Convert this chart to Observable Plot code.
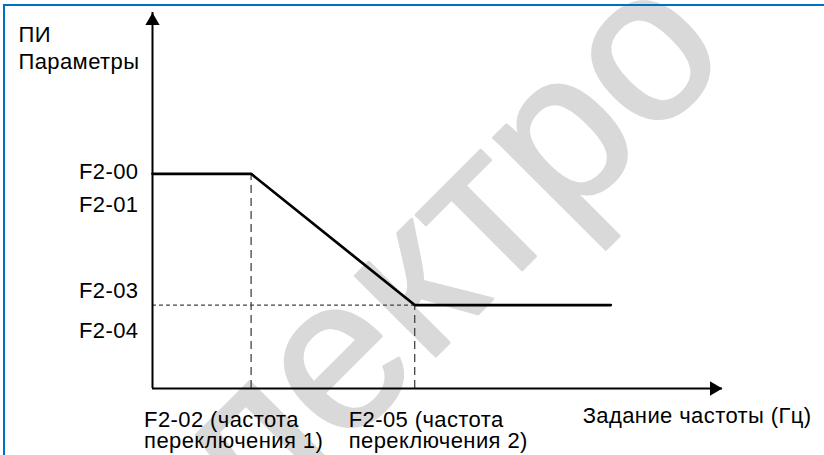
<!DOCTYPE html>
<html><head><meta charset="utf-8">
<script src="https://cdn.jsdelivr.net/npm/d3@7"></script>
<script src="https://cdn.jsdelivr.net/npm/@observablehq/plot@0.6"></script>
<style>
html,body{margin:0;padding:0;background:#fff;overflow:hidden;}
#wrap{position:relative;width:824px;height:455px;}
#border{position:absolute;left:3px;top:4px;right:0;bottom:0;border-top:2.5px solid #0070C0;border-left:2.5px solid #0070C0;pointer-events:none;}
#chart text{letter-spacing:0.4px;}
</style></head><body>
<div id="wrap"><div id="chart"></div><div id="border"></div></div>
<script>
// Frequency setting (relative units, axis length = 100) and PI parameter level
const freq = [0, 17.3, 46.0, 80.4];
const piParam = [57.1, 57.1, 22.2, 22.2];
const axisMax = 100;
const yTickLabels = ["F2-00\nF2-01", "F2-03\nF2-04"];
const xTickLabels = ["F2-02 (частота\nпереключения 1)", "F2-05 (частота\nпереключения 2)"];
const yTitle = "ПИ\nПараметры";
const xTitle = "Задание частоты (Гц)";
const watermark = "Электро";

const curve = freq.map((f, i) => ({f, p: piParam[i]}));
const font = "'Liberation Sans', Arial, sans-serif";
const fs = 22;

const plot = Plot.plot({
  width: 824, height: 455,
  marginLeft: 152, marginRight: 102, marginTop: 12, marginBottom: 67,
  x: {domain: [0, axisMax], axis: null},
  y: {domain: [0, axisMax], axis: null},
  style: {fontFamily: font, background: "white", color: "black"},
  marks: [
    Plot.text([watermark], {frameAnchor: "top-left", dx: 180, dy: 231, rotate: -45, fontSize: 215,
      fill: "#d9d9d9", stroke: "#d9d9d9", strokeWidth: 3, strokeLinejoin: "round", textAnchor: "middle"}),
    // dashed guides
    Plot.ruleX([{x: freq[1], y2: piParam[1]}, {x: freq[2], y2: piParam[2]}],
      {x: "x", y1: 0, y2: "y2", stroke: "#444", strokeWidth: 1.3, strokeDasharray: "8,5"}),
    Plot.ruleY([piParam[2]], {x1: 0, x2: freq[2], stroke: "#444", strokeWidth: 1.2, strokeDasharray: "4,3"}),
    // axes
    Plot.ruleX([0], {y1: 0, y2: axisMax, stroke: "black", strokeWidth: 2}),
    Plot.ruleY([0], {x1: 0, x2: axisMax, stroke: "black", strokeWidth: 2}),
    Plot.dot([{x: 0, y: axisMax}], {x: "x", y: "y", symbol: "triangle", r: 5.3, fill: "black", stroke: null, dy: 8.4}),
    Plot.dot([{x: axisMax, y: 0}], {x: "x", y: "y", symbol: "triangle", r: 5.3, fill: "black", stroke: null, rotate: 90, dx: -8.4}),
    // curve
    Plot.line(curve, {x: "f", y: "p", stroke: "black", strokeWidth: 2.7}),
    // y labels
    Plot.text([{y: piParam[0], t: yTickLabels[0]}], {x: () => 0, y: "y", text: "t", textAnchor: "end", dx: -14, dy: 10.8, lineHeight: 1.5, fontSize: fs}),
    Plot.text([{y: piParam[2], t: yTickLabels[1]}], {x: () => 0, y: "y", text: "t", textAnchor: "end", dx: -14, dy: 0, lineHeight: 1.82, fontSize: fs}),
    // x labels
    Plot.text([{x: freq[1], t: xTickLabels[0]}], {x: "x", y: () => 0, text: "t", textAnchor: "start", lineAnchor: "top", dx: -107, dy: 23, lineHeight: 0.96, fontSize: fs}),
    Plot.text([{x: freq[2], t: xTickLabels[1]}], {x: "x", y: () => 0, text: "t", textAnchor: "start", lineAnchor: "top", dx: -66, dy: 23, lineHeight: 0.96, fontSize: fs}),
    // titles
    Plot.text([xTitle], {frameAnchor: "bottom-right", textAnchor: "end", lineAnchor: "top", dx: 89, dy: 19, fontSize: fs}),
    Plot.text([yTitle], {frameAnchor: "top-left", textAnchor: "start", lineAnchor: "top", dx: -134, dy: 10, lineHeight: 1.23, fontSize: fs})
  ]
});
document.getElementById("chart").appendChild(plot);
</script>
</body></html>
